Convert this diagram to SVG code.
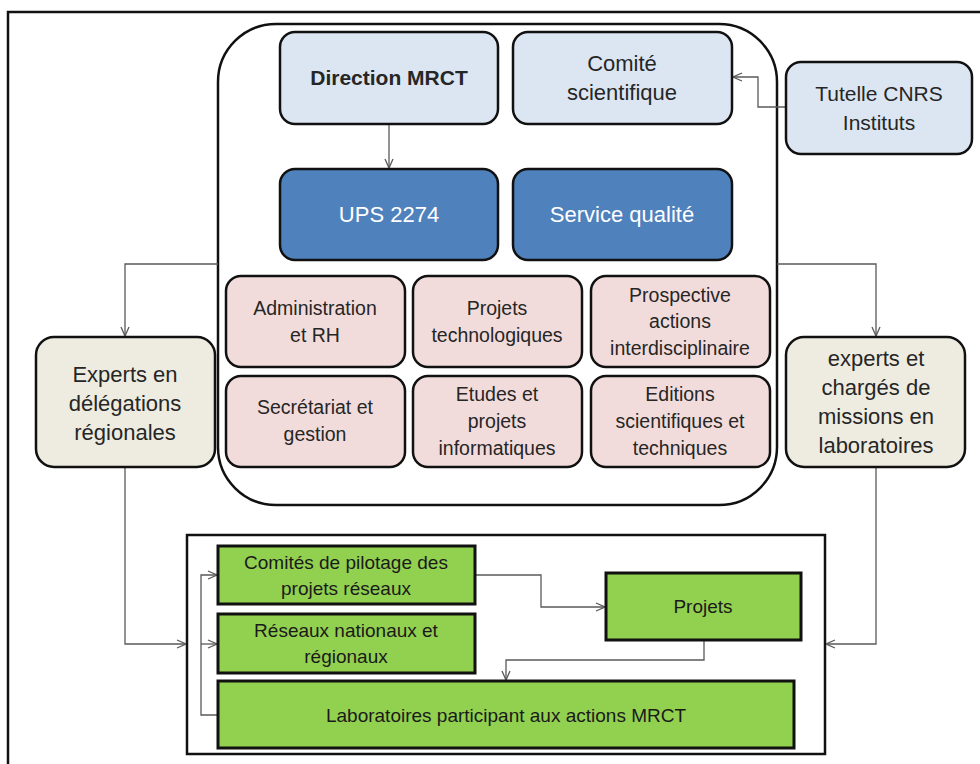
<svg xmlns="http://www.w3.org/2000/svg" width="980" height="764" viewBox="0 0 980 764">
  <defs>
    <style>
      text { font-family: "Liberation Sans", Arial, sans-serif; fill: #262626; text-anchor: middle; }
      .box { stroke: #111; stroke-width: 2.5; }
      .lb { fill: #dce6f2; }
      .db { fill: #4f81bd; }
      .pk { fill: #f2dcdb; }
      .bg { fill: #eeece1; }
      .gr { fill: #92d050; stroke: #111; stroke-width: 3; }
      .t22 { font-size: 22px; }
      .t21 { font-size: 21px; }
      .t20 { font-size: 19.5px; }
      .t19 { font-size: 19px; fill: #1a1a1a; }
      .w { fill: #ffffff; }
      .conn { fill: none; stroke: #595959; stroke-width: 1.3; }
    </style>
    <marker id="arr" viewBox="0 0 10 10" refX="10" refY="5" markerWidth="10" markerHeight="10" markerUnits="userSpaceOnUse" orient="auto">
      <path d="M1,1 L10,5 L1,9" fill="none" stroke="#595959" stroke-width="1.3"/>
    </marker>
  </defs>

  <rect width="980" height="764" fill="#ffffff"/>

  <!-- page frame (top and left edges) -->
  <path d="M8,764 V12 H980" fill="none" stroke="#111" stroke-width="2.5"/>

  <!-- MRCT container -->
  <rect id="mrct" x="218" y="24" width="559" height="481" rx="58" ry="58" fill="none" stroke="#111" stroke-width="2.5"/>

  <!-- bottom network container -->
  <rect id="reseau" x="187" y="535" width="638" height="219" fill="#ffffff" stroke="#111" stroke-width="2.5"/>

  <g id="connectors">
    <path class="conn" d="M389,124 V168" marker-end="url(#arr)"/>
    <path class="conn" d="M786,107 H758 V77 H733" marker-end="url(#arr)"/>
    <path class="conn" d="M218,264 H125 V336" marker-end="url(#arr)"/>
    <path class="conn" d="M777,264 H876 V336" marker-end="url(#arr)"/>
    <path class="conn" d="M125,467 V644 H186" marker-end="url(#arr)"/>
    <path class="conn" d="M876,467 V644 H826" marker-end="url(#arr)"/>
    <path class="conn" d="M218,715 H201 V575 H217" marker-end="url(#arr)"/>
    <path class="conn" d="M201,644 H217" marker-end="url(#arr)"/>
    <path class="conn" d="M475,575 H541 V607 H605" marker-end="url(#arr)"/>
    <path class="conn" d="M704,640 V660 H506 V680" marker-end="url(#arr)"/>
  </g>

  <g id="direction">
    <rect class="box lb" x="280" y="32" width="218" height="92" rx="15"/>
    <text x="389" y="85" font-size="21" font-weight="bold">Direction MRCT</text>
  </g>
  <g id="comite">
    <rect class="box lb" x="513" y="32" width="219" height="92" rx="15"/>
    <text class="t22" x="622" y="71">Comité</text>
    <text class="t22" x="622" y="100">scientifique</text>
  </g>
  <g id="tutelle">
    <rect class="box lb" x="786" y="62" width="186" height="92" rx="15"/>
    <text class="t21" x="879" y="101">Tutelle CNRS</text>
    <text class="t21" x="879" y="130">Instituts</text>
  </g>

  <g id="ups">
    <rect class="box db" x="280" y="169" width="218" height="91" rx="15"/>
    <text class="t22 w" x="389" y="222">UPS 2274</text>
  </g>
  <g id="qualite">
    <rect class="box db" x="513" y="169" width="219" height="91" rx="15"/>
    <text class="t22 w" x="622" y="222">Service qualité</text>
  </g>

  <g id="admin">
    <rect class="box pk" x="226" y="276" width="179" height="91" rx="15"/>
    <text class="t20" x="315" y="315">Administration</text>
    <text class="t20" x="315" y="342">et RH</text>
  </g>
  <g id="projtech">
    <rect class="box pk" x="413" y="276" width="169" height="91" rx="15"/>
    <text class="t20" x="497" y="315">Projets</text>
    <text class="t20" x="497" y="342">technologiques</text>
  </g>
  <g id="prospective">
    <rect class="box pk" x="591" y="276" width="179" height="91" rx="15"/>
    <text class="t20" x="680" y="302">Prospective</text>
    <text class="t20" x="680" y="328">actions</text>
    <text class="t20" x="680" y="355">interdisciplinaire</text>
  </g>
  <g id="secretariat">
    <rect class="box pk" x="226" y="376" width="179" height="91" rx="15"/>
    <text class="t20" x="315" y="414">Secrétariat et</text>
    <text class="t20" x="315" y="441">gestion</text>
  </g>
  <g id="etudes">
    <rect class="box pk" x="413" y="376" width="169" height="91" rx="15"/>
    <text class="t20" x="497" y="401">Etudes et</text>
    <text class="t20" x="497" y="428">projets</text>
    <text class="t20" x="497" y="455">informatiques</text>
  </g>
  <g id="editions">
    <rect class="box pk" x="591" y="376" width="179" height="91" rx="15"/>
    <text class="t20" x="680" y="401">Editions</text>
    <text class="t20" x="680" y="428">scientifiques et</text>
    <text class="t20" x="680" y="455">techniques</text>
  </g>

  <g id="experts-delegations">
    <rect class="box bg" x="36" y="337" width="179" height="130" rx="18"/>
    <text class="t22" x="125" y="382">Experts en</text>
    <text class="t22" x="125" y="411">délégations</text>
    <text class="t22" x="125" y="440">régionales</text>
  </g>
  <g id="experts-labos">
    <rect class="box bg" x="786" y="337" width="179" height="130" rx="18"/>
    <text class="t22" x="876" y="366">experts et</text>
    <text class="t22" x="876" y="395">chargés de</text>
    <text class="t22" x="876" y="424">missions en</text>
    <text class="t22" x="876" y="453">laboratoires</text>
  </g>

  <g id="comites-pilotage">
    <rect class="gr" x="218" y="546" width="257" height="58"/>
    <text class="t19" x="346" y="569">Comités de pilotage des</text>
    <text class="t19" x="346" y="595">projets réseaux</text>
  </g>
  <g id="reseaux">
    <rect class="gr" x="218" y="614" width="257" height="59"/>
    <text class="t19" x="346" y="637">Réseaux nationaux et</text>
    <text class="t19" x="346" y="663">régionaux</text>
  </g>
  <g id="projets">
    <rect class="gr" x="606" y="573" width="195" height="67"/>
    <text class="t19" x="703" y="613">Projets</text>
  </g>
  <g id="laboratoires">
    <rect class="gr" x="218" y="681" width="576" height="67"/>
    <text class="t19" x="506" y="722">Laboratoires participant aux actions MRCT</text>
  </g>
</svg>
